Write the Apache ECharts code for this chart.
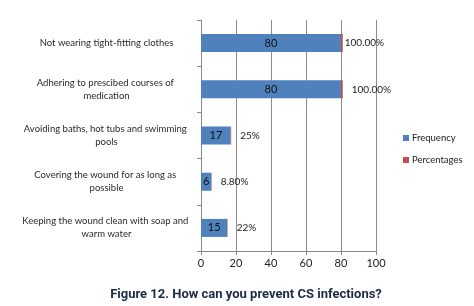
<!DOCTYPE html>
<html>
<head>
<meta charset="utf-8">
<script src="https://cdn.jsdelivr.net/npm/echarts@6/dist/echarts.min.js"></script>
<style>
  html, body { margin: 0; padding: 0; background: #fff; }
  #chart { width: 474px; height: 306px; }
</style>
</head>
<body>
<div id="chart"></div>
<script>
const categories = [
  "Not wearing tight-fitting clothes",
  "Adhering to prescibed courses of medication",
  "Avoiding baths, hot tubs and swimming pools",
  "Covering the wound for as long as possible",
  "Keeping the wound clean with soap and warm water",
];
const frequency = [80, 80, 17, 6, 15];
const percentages = [1, 1, 0.25, 0.088, 0.22];
const percentLabels = ["100.00%", "100.00%", "25%", "8.80%", "22%"];
const xTicks = [0, 20, 40, 60, 80, 100];

const font = "Lato, Liberation Sans, sans-serif";
const chart = echarts.init(document.getElementById("chart"));

chart.setOption({
  animation: false,
  title: {
    text: "Figure 12. How can you prevent CS infections?",
    left: 241,
    textAlign: "center",
    top: 283,
    textStyle: {
      fontFamily: "Roboto, sans-serif",
      fontWeight: "bold",
      fontSize: 13,
      color: "#1b2a45",
    },
  },
  legend: {
    orient: "vertical",
    left: 398,
    top: 128,
    itemWidth: 6,
    itemHeight: 6,
    itemGap: 12,
    icon: "rect",
    textStyle: { fontFamily: font, fontSize: 9.5, color: "#222", padding: [0, 0, 0, -2] },
    data: ["Frequency", "Percentages"],
  },
  grid: { left: 201, right: 98, top: 20, bottom: 55, containLabel: false },
  xAxis: {
    type: "value",
    min: xTicks[0],
    max: xTicks[xTicks.length - 1],
    interval: 20,
    axisLine: { show: true, lineStyle: { color: "#888" } },
    axisTick: { show: true, length: 4, lineStyle: { color: "#888" } },
    axisLabel: { fontFamily: font, fontSize: 11, color: "#222", margin: 7 },
    splitLine: { show: true, lineStyle: { color: "#8c8c8c", width: 1 } },
  },
  yAxis: {
    type: "category",
    inverse: true,
    data: categories,
    axisLine: { show: true, lineStyle: { color: "#888" } },
    axisTick: { show: true, length: 4, lineStyle: { color: "#888" } },
    axisLabel: {
      margin: 9,
      width: 171,
      overflow: "break",
      fontFamily: font,
      fontSize: 9.5,
      lineHeight: 13,
      color: "#2a2a2a",
      formatter: (v) => "{c|" + v + "}",
      rich: { c: { align: "center", fontFamily: font, fontSize: 9.5, lineHeight: 13, color: "#2a2a2a" } },
    },
  },
  series: [
    {
      name: "Frequency",
      type: "bar",
      stack: "total",
      barWidth: 18,
      data: frequency,
      itemStyle: { color: "#4f81bd" },
      label: {
        show: true,
        position: "inside",
        fontFamily: font,
        fontSize: 11,
        color: "#111",
      },
    },
    {
      name: "Percentages",
      type: "bar",
      stack: "total",
      barWidth: 18,
      data: percentages.map((v, i) => ({
        value: v,
        label: { distance: i === 0 ? 2 : 9 },
      })),
      itemStyle: { color: "#c0504d" },
      label: {
        show: true,
        position: "right",
        fontFamily: font,
        fontSize: 10,
        color: "#222",
        formatter: (p) => percentLabels[p.dataIndex],
      },
    },
  ],
});
</script>
</body>
</html>
